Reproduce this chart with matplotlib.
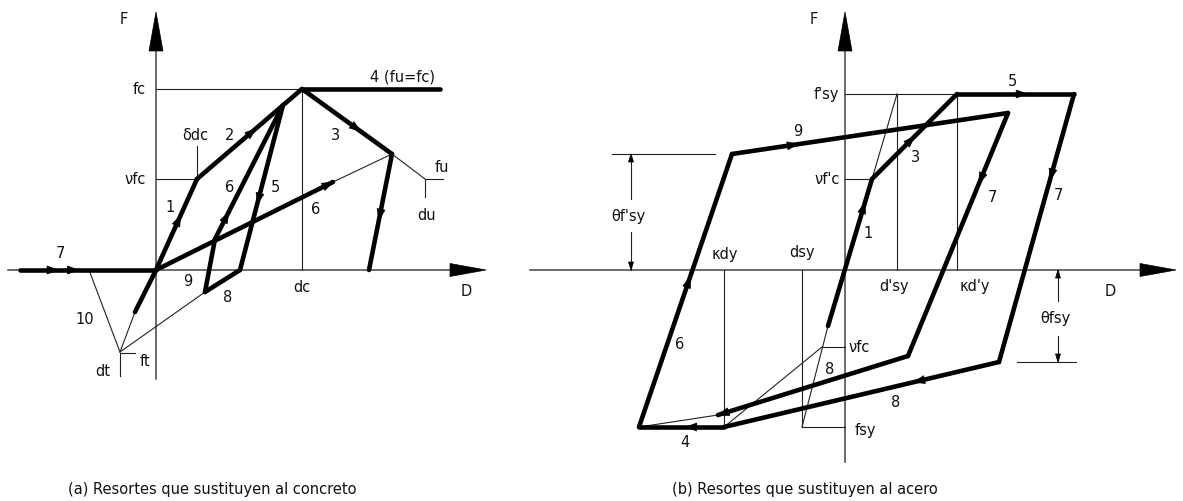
import matplotlib
matplotlib.use('Agg')
import matplotlib.pyplot as plt
import numpy as np
from matplotlib.patches import Polygon

plt.rcParams['font.family'] = ['DejaVu Sans']

W, H = 1183, 502
FS = 10.5
THICK = 3.3
THIN = 0.8
AXC = '#444444'

# ---------------- Panel (a): springs replacing concrete (D, F relative to origin)
a_thick = {
    'l7': [(-136, 0), (0, 0)],
    'tens': [(-21, -42), (0, 0)],
    'l1': [(0, 0), (41, 91)],
    'l2': [(41, 91), (146, 181)],
    'l4': [(146, 181), (284, 181)],
    'l3': [(146, 181), (236, 116)],
    'down': [(236, 116), (213, 0)],
    'l6long': [(0, 0), (177, 88)],
    'l5': [(127, 165), (84, 0)],
    'l8': [(84, 0), (49, -22)],
    'l9': [(49, -22), (59, 31)],
    'l6': [(59, 31), (127, 165)],
}
a_thin = [
    [(0, 181), (146, 181), (146, 0)],
    [(0, 91), (41, 91)],
    [(41, 91), (41, 124)],
    [(177, 88), (236, 116)],
    [(236, 116), (269, 91)],
    [(269, 73), (269, 91), (287, 91)],
    [(-67, 0), (-36, -82)],
    [(-36, -82), (-21, -42)],
    [(-36, -82), (49, -22)],
    [(-36, -106), (-36, -83), (-21, -83)],
]
a_arrows = [('l1', 0.60), ('l2', 0.56), ('l3', 0.65), ('down', 0.57), ('l6long', 1.0),
            ('l6', 0.20), ('l5', 0.60), ('l7', 0.28), ('l7', 0.43)]
a_labels = [
    ('F', -32, 251, 'center'), ('fc', -10, 181, 'right'), ('νfc', -10, 91, 'right'),
    ('δdc', 39, 135, 'center'), ('2', 74, 136, 'center'), ('1', 14, 64, 'center'),
    ('6', 74, 84, 'center'), ('5', 119, 84, 'center'), ('6', 160, 61, 'center'),
    ('3', 179, 136, 'center'), ('4 (fu=fc)', 247, 194, 'center'), ('fu', 286, 104, 'center'),
    ('du', 271, 56, 'center'), ('7', -96, 18, 'center'), ('9', 32, -11, 'center'),
    ('8', 72, -26, 'center'), ('dc', 146, -16, 'center'), ('10', -71, -49, 'center'),
    ('ft', -11, -91, 'center'), ('dt', -53, -101, 'center'), ('D', 310, -21, 'center'),
]
a_origin = (156, 271)
a_vaxis = (-109, 219, 258)
a_haxis = (-148, 294, 330)

# ---------------- Panel (b): springs replacing steel
b_thick = {
    'l1': [(-17, -56), (27, 91)],
    'l3': [(27, 91), (112, 176)],
    'l5': [(112, 176), (229, 176)],
    'l7r': [(229, 176), (154, -92)],
    'l8lo': [(154, -92), (-121, -157)],
    'l4': [(-121, -157), (-206, -157)],
    'l6': [(-206, -157), (-113, 116)],
    'l9': [(-113, 116), (163, 157)],
    'l7m': [(163, 157), (63, -86)],
    'l8up': [(63, -86), (-127, -145)],
}
b_thin = [
    [(0, 176), (112, 176)],
    [(52, 176), (52, 0)],
    [(112, 176), (112, 0)],
    [(27, 91), (52, 176)],
    [(0, 91), (27, 91)],
    [(-17, -56), (-43, -157)],
    [(-43, -157), (0, -157)],
    [(-43, 0), (-43, -157)],
    [(-121, 0), (-121, -157)],
    [(-23, -77), (0, -77)],
    [(-121, -157), (-23, -77)],
    [(-127, -145), (-206, -157)],
    [(-233, 116), (-130, 116)],
    [(-214, 116), (-214, 71)],
    [(-214, 38), (-214, 0)],
    [(172, -92), (231, -92)],
    [(213, 0), (213, -31)],
    [(213, -66), (213, -92)],
]
b_dim_arrows = [((-214, 71), (-214, 116)), ((-214, 38), (-214, 0)),
                ((213, -31), (213, 0)), ((213, -66), (213, -92))]
b_arrows = [('l1', 0.84), ('l3', 0.50), ('l5', 0.60), ('l7r', 0.32), ('l7m', 0.29),
            ('l9', 0.24), ('l6', 0.55), ('l8lo', 0.31), ('l8up', 1.0), ('l4', 0.45)]
b_labels = [
    ('F', -31, 251, 'center'), ("f'sy", -6, 176, 'right'), ("νf'c", -5, 91, 'right'),
    ('κdy', -120, 16, 'center'), ('dsy', -43, 19, 'center'), ("d'sy", 49, -16, 'center'),
    ("κd'y", 130, -16, 'center'), ('D', 265, -21, 'center'), ('θfsy', 210, -47, 'center'),
    ("θf'sy", -217, 55, 'center'), ('1', 23, 38, 'center'), ('3', 71, 114, 'center'),
    ('5', 167, 189, 'center'), ('7', 213, 76, 'center'), ('7', 147, 74, 'center'),
    ('9', -47, 139, 'center'), ('6', -165, -74, 'center'), ('4', -160, -172, 'center'),
    ('8', 51, -132, 'center'), ('8', -15, -99, 'center'), ('νfc', 3, -77, 'left'),
    ('fsy', 10, -160, 'left'),
]
b_origin = (845, 271)
b_vaxis = (-192, 219, 258)
b_haxis = (-315, 295, 331)

captions = ['(a) Resortes que sustituyen al concreto', '(b) Resortes que sustituyen al acero']
caption_x = [68, 672]


def tri(ax, tip, direction, L=11, Wd=7, color='k'):
    d = np.asarray(direction, float)
    d = d / np.linalg.norm(d)
    n = np.array([-d[1], d[0]])
    tip = np.asarray(tip, float)
    base = tip - L * d
    ax.add_patch(Polygon([tip, base + n * Wd / 2, base - n * Wd / 2], closed=True,
                         facecolor=color, edgecolor=color, lw=0.5, clip_on=False, zorder=5))


def make_axes(fig, x0, x1, origin):
    ox, oy = origin
    ax = fig.add_axes([x0 / W, (H - 470) / H, (x1 - x0) / W, 470 / H])
    ax.set_xlim(x0 - ox, x1 - ox)
    ax.set_ylim(oy - 470, oy)
    ax.axis('off')
    return ax


def draw_panel(ax, thick, thin, arrows, labels, vaxis, haxis):
    vb, vbase, vtip = vaxis
    hb, hbase, htip = haxis
    ax.plot([0, 0], [vb, vbase], color=AXC, lw=1.1, clip_on=False)
    ax.plot([hb, hbase], [0, 0], color=AXC, lw=1.1, clip_on=False)
    tri(ax, (0, vtip), (0, 1), L=vtip - vbase, Wd=14)
    tri(ax, (htip, 0), (1, 0), L=htip - hbase, Wd=13)
    for pts in thin:
        p = np.array(pts)
        ax.plot(p[:, 0], p[:, 1], color='#222222', lw=THIN, clip_on=False)
    for name, pts in thick.items():
        p = np.array(pts)
        ax.plot(p[:, 0], p[:, 1], color='k', lw=THICK, solid_capstyle='round', clip_on=False, zorder=3)
    for name, t in arrows:
        p0, p1 = np.array(thick[name], float)
        tri(ax, p0 + t * (p1 - p0), p1 - p0, L=11, Wd=8)
    for txt, x, y, ha in labels:
        ax.text(x, y, txt, ha=ha, va='center', fontsize=FS, color='#111111')


fig = plt.figure(figsize=(W / 100, H / 100), dpi=100)
axa = make_axes(fig, 0, 520, a_origin)
draw_panel(axa, a_thick, a_thin, a_arrows, a_labels, a_vaxis, a_haxis)
axb = make_axes(fig, 520, W, b_origin)
draw_panel(axb, b_thick, b_thin, b_arrows, b_labels, b_vaxis, b_haxis)
for s, e in b_dim_arrows:
    s, e = np.array(s, float), np.array(e, float)
    tri(axb, e, e - s, L=8, Wd=5)

for txt, x in zip(captions, caption_x):
    fig.text(x / W, (H - 490) / H, txt, ha='left', va='center', fontsize=FS, color='#111111')

fig.savefig('out.png', dpi=100)
